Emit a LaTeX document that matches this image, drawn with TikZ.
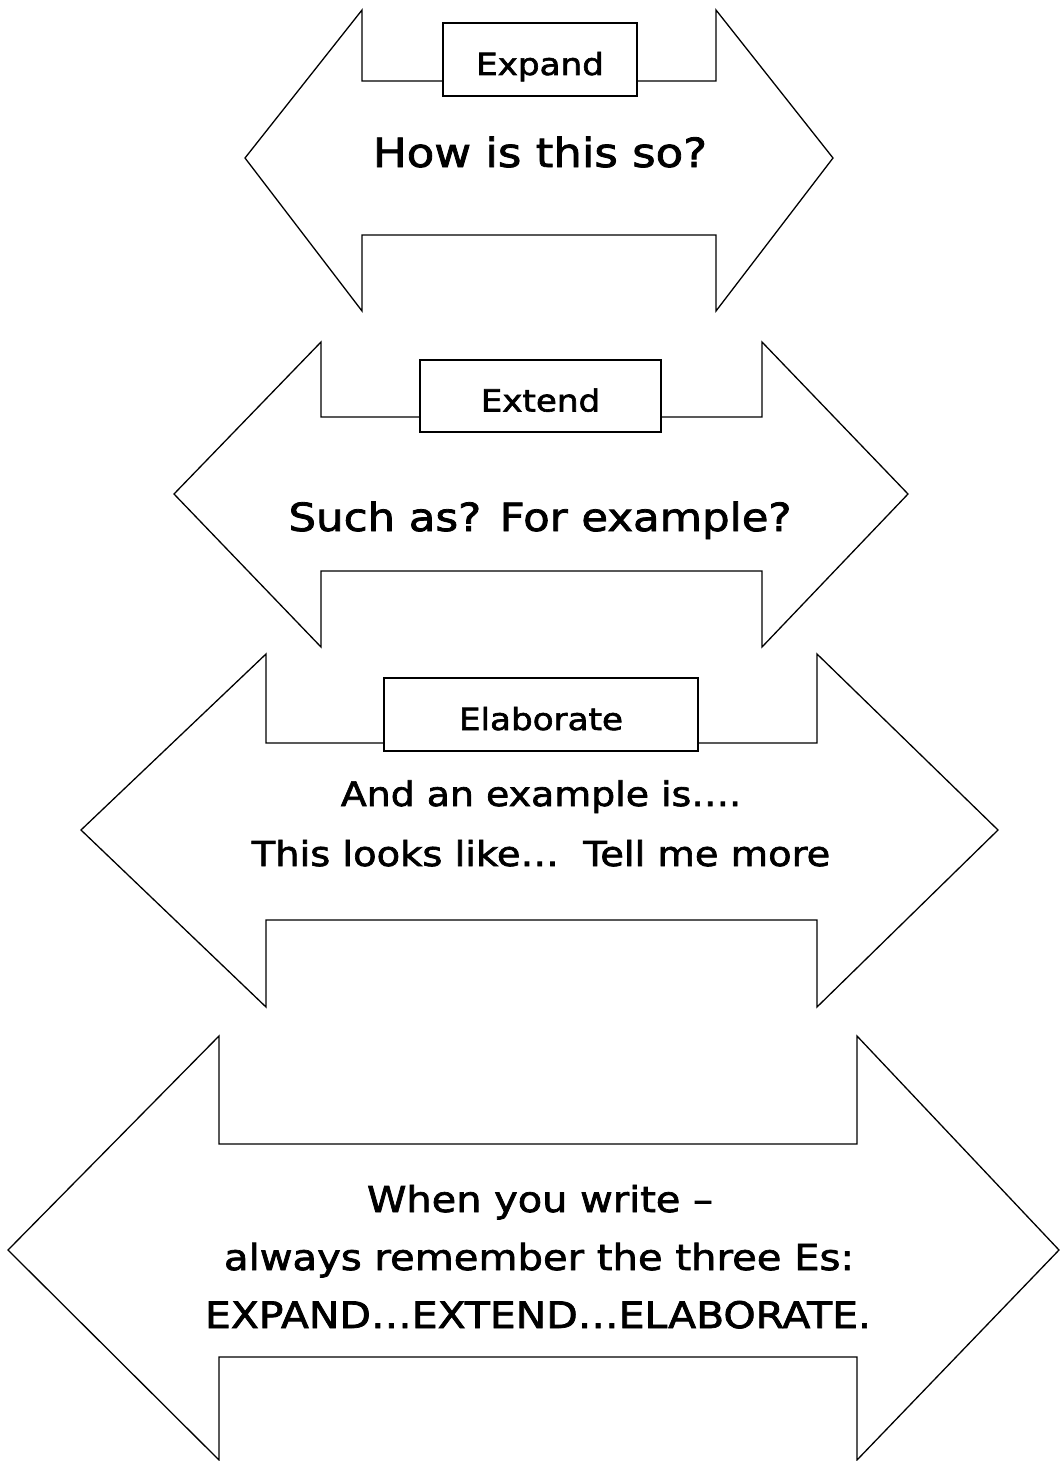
\documentclass[tikz,border=0pt]{standalone}
\usepackage{fontspec}
\setmainfont[FakeStretch=1.12,FakeBold=2]{DejaVu Sans}
\begin{document}
\begin{tikzpicture}[x=1pt,y=-1pt,
  arrowshape/.style={draw=black,fill=white,line width=1.3pt,line join=miter},
  tagbox/.style={draw=black,fill=white,line width=1.8pt,inner sep=0pt,
    text height=31pt,text depth=0pt,font=\fontsize{30.5}{36}\selectfont},
  bigtext/.style={anchor=base,inner sep=0pt}]
\useasboundingbox (0,0) rectangle (1061,1461);

% Arrow 1
\path[arrowshape] (245,158) -- (362,10) -- (362,81) -- (716,81) -- (716,10)
  -- (833,158) -- (716,311) -- (716,235) -- (362,235) -- (362,311) -- cycle;
\node[tagbox,minimum width=194pt,minimum height=73pt] (expand) at (540,59.5) {Expand};
\node[bigtext,font=\fontsize{40.2}{48}\selectfont] (how) at (540,167) {How is this so?};

% Arrow 2
\path[arrowshape] (174,494) -- (321,342) -- (321,417) -- (762,417) -- (762,342)
  -- (908,494) -- (762,647) -- (762,571) -- (321,571) -- (321,647) -- cycle;
\node[tagbox,minimum width=241pt,minimum height=72pt] (extend) at (540.5,396) {Extend};
\node[bigtext,font=\fontsize{38.8}{46}\selectfont] (such) at (540,531) {Such as? For example?};

% Arrow 3
\path[arrowshape] (81,830) -- (266,654) -- (266,743) -- (817,743) -- (817,654)
  -- (998,830) -- (817,1007) -- (817,920) -- (266,920) -- (266,1007) -- cycle;
\node[tagbox,minimum width=314pt,minimum height=73pt] (elab) at (541,714.5) {Elaborate};
\node[bigtext,font=\fontsize{33.8}{40}\selectfont] (andan) at (541,806) {And an example is….};
\node[bigtext,font=\fontsize{34.3}{40}\selectfont] (looks) at (541,866) {This looks like…\ \ Tell me more};

% Arrow 4
\path[arrowshape] (8,1250) -- (219,1036) -- (219,1144) -- (857,1144) -- (857,1036)
  -- (1059,1250) -- (857,1460) -- (857,1357) -- (219,1357) -- (219,1460) -- cycle;
\node[bigtext,font=\fontsize{35.6}{42}\selectfont] (when) at (540,1212) {When you write –};
\node[bigtext,font=\fontsize{35.8}{42}\selectfont] (always) at (539,1270) {always remember the three Es:};
\node[bigtext,font=\fontsize{36.5}{42}\selectfont] (caps) at (538,1328) {EXPAND…EXTEND…ELABORATE.};
\end{tikzpicture}
\end{document}
